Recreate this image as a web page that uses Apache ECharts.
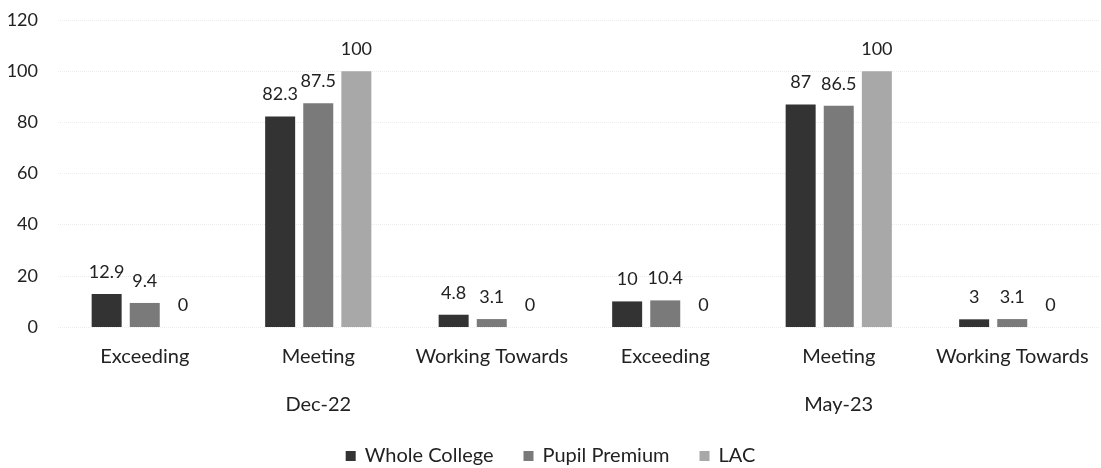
<!DOCTYPE html>
<html>
<head>
<meta charset="utf-8">
<script src="https://cdn.jsdelivr.net/npm/echarts@6/dist/echarts.min.js"></script>
<style>
html,body{margin:0;padding:0;background:#fff;}
#chart{width:1101px;height:468px;}
</style>
</head>
<body>
<div id="chart"></div>
<script>
const categories = ['Exceeding', 'Meeting', 'Working Towards', 'Exceeding', 'Meeting', 'Working Towards'];
const periods = ['Dec-22', 'May-23'];
const seriesNames = ['Whole College', 'Pupil Premium', 'LAC'];
const wholeCollege = [12.9, 82.3, 4.8, 10, 87, 3];
const pupilPremium = [9.4, 87.5, 3.1, 10.4, 86.5, 3.1];
const lac = [0, 100, 0, 0, 100, 0];
const yTicks = { min: 0, max: 120, interval: 20 };

const FONT = 'Lato, "Open Sans", sans-serif';
const TXT = '#222';
const colors = ['#333333', '#7a7a7a', '#a8a8a8'];

const chart = echarts.init(document.getElementById('chart'), null, { renderer: 'canvas' });

function barSeries(name, data, color) {
  return {
    name: name,
    type: 'bar',
    data: data,
    xAxisIndex: 0,
    yAxisIndex: 0,
    barWidth: 30,
    barGap: '27%',
    itemStyle: { color: color },
    label: {
      show: true,
      position: 'top',
      distance: 13,
      color: TXT,
      fontFamily: FONT,
      fontSize: 18
    },
    emphasis: { disabled: true }
  };
}

chart.setOption({
  animation: false,
  backgroundColor: '#fff',
  textStyle: { fontFamily: FONT },
  grid: { left: 58, right: 2, top: 20, bottom: 141, containLabel: false },
  legend: {
    data: seriesNames,
    top: 441,
    left: 'center',
    itemWidth: 10,
    itemHeight: 10,
    itemGap: 30,
    icon: 'rect',
    textStyle: { color: TXT, fontFamily: FONT, fontSize: 20, padding: [0, 0, 0, 4] }
  },
  xAxis: [
    {
      type: 'category',
      data: categories,
      position: 'bottom',
      axisLine: { show: false },
      axisTick: { show: false },
      axisLabel: { color: TXT, fontFamily: FONT, fontSize: 20, margin: 20, interval: 0 }
    },
    {
      type: 'category',
      data: periods,
      position: 'bottom',
      offset: 48,
      axisLine: { show: false },
      axisTick: { show: false },
      axisLabel: { color: TXT, fontFamily: FONT, fontSize: 20, margin: 20, interval: 0 }
    }
  ],
  yAxis: {
    type: 'value',
    min: yTicks.min,
    max: yTicks.max,
    interval: yTicks.interval,
    axisLine: { show: false },
    axisTick: { show: false },
    axisLabel: { color: TXT, fontFamily: FONT, fontSize: 18, margin: 20 },
    splitLine: { show: true, lineStyle: { color: '#ececec', type: 'dotted', width: 1 } }
  },
  series: [
    barSeries(seriesNames[0], wholeCollege, colors[0]),
    barSeries(seriesNames[1], pupilPremium, colors[1]),
    barSeries(seriesNames[2], lac, colors[2])
  ]
});
</script>
</body>
</html>
